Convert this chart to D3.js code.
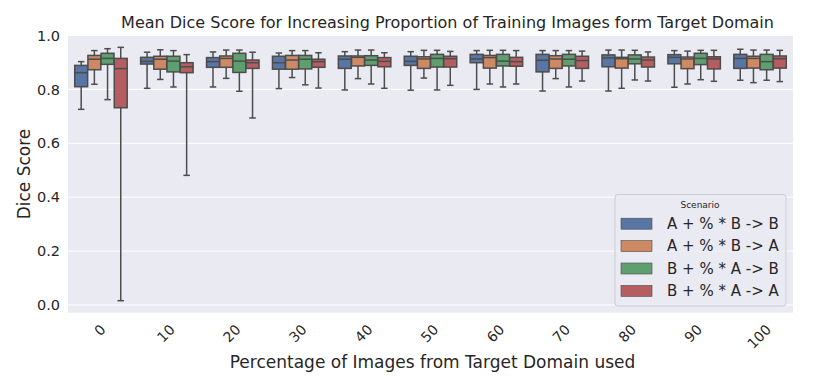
<!DOCTYPE html>
<html>
<head>
	<title>Dice Score Boxplot</title>
	<script type="text/javascript" src="https://cdnjs.cloudflare.com/ajax/libs/d3/7.8.5/d3.min.js"></script>
	<style>
		body { margin: 0; background: white; }
		text { font-family: "DejaVu Sans", sans-serif; fill: #262626; }
	</style>
</head>
<body>
	<svg id="chart" width="830" height="388"></svg>
	<script type="text/javascript">
		var categories = ["0", "10", "20", "30", "40", "50", "60", "70", "80", "90", "100"];
		var scenarios = ["A + % * B -> B", "A + % * B -> A", "B + % * A -> B", "B + % * A -> A"];
		var colors = ["#5875a4", "#cc8963", "#5f9e6e", "#b55d60"];
		var yTicks = [0.0, 0.2, 0.4, 0.6, 0.8, 1.0];

		// each entry: [whisker low, q1, median, q3, whisker high]
		var boxesAB_B = [
			[0.726, 0.810, 0.862, 0.889, 0.903], [0.804, 0.894, 0.904, 0.919, 0.938],
			[0.809, 0.882, 0.903, 0.918, 0.939], [0.803, 0.875, 0.899, 0.923, 0.935],
			[0.798, 0.878, 0.912, 0.924, 0.940], [0.797, 0.889, 0.904, 0.923, 0.940],
			[0.800, 0.899, 0.913, 0.930, 0.944], [0.794, 0.865, 0.908, 0.930, 0.944],
			[0.794, 0.884, 0.917, 0.928, 0.946], [0.808, 0.895, 0.919, 0.929, 0.944],
			[0.834, 0.878, 0.915, 0.930, 0.949]
		];
		var boxesAB_A = [
			[0.819, 0.873, 0.912, 0.926, 0.944], [0.837, 0.875, 0.912, 0.923, 0.947],
			[0.841, 0.882, 0.915, 0.924, 0.946], [0.844, 0.875, 0.909, 0.926, 0.944],
			[0.840, 0.887, 0.919, 0.924, 0.946], [0.842, 0.878, 0.913, 0.921, 0.945],
			[0.820, 0.879, 0.918, 0.926, 0.945], [0.840, 0.878, 0.913, 0.925, 0.944],
			[0.804, 0.879, 0.914, 0.919, 0.946], [0.820, 0.877, 0.913, 0.920, 0.942],
			[0.825, 0.879, 0.915, 0.923, 0.946]
		];
		var boxesBA_B = [
			[0.762, 0.893, 0.915, 0.934, 0.951], [0.809, 0.865, 0.905, 0.923, 0.944],
			[0.793, 0.863, 0.905, 0.934, 0.946], [0.817, 0.876, 0.912, 0.926, 0.944],
			[0.820, 0.889, 0.909, 0.925, 0.946], [0.798, 0.883, 0.915, 0.930, 0.945],
			[0.809, 0.887, 0.905, 0.930, 0.945], [0.809, 0.887, 0.912, 0.930, 0.944],
			[0.835, 0.895, 0.913, 0.928, 0.945], [0.836, 0.892, 0.915, 0.934, 0.945],
			[0.834, 0.873, 0.903, 0.930, 0.946]
		];
		var boxesBA_A = [
			[0.016, 0.732, 0.877, 0.915, 0.956], [0.481, 0.862, 0.884, 0.899, 0.929],
			[0.694, 0.878, 0.899, 0.909, 0.938], [0.805, 0.882, 0.903, 0.912, 0.936],
			[0.804, 0.884, 0.904, 0.918, 0.936], [0.815, 0.883, 0.914, 0.923, 0.941],
			[0.820, 0.886, 0.903, 0.919, 0.944], [0.831, 0.878, 0.907, 0.923, 0.942],
			[0.831, 0.883, 0.909, 0.920, 0.939], [0.830, 0.876, 0.913, 0.921, 0.945],
			[0.829, 0.879, 0.914, 0.924, 0.945]
		];
		var allBoxes = [boxesAB_B, boxesAB_A, boxesBA_B, boxesBA_A];

		var svg = d3.select("#chart");
		var plotLeft = 68, plotRight = 793, plotTop = 35.5, plotBottom = 312.7;
		var lineColor = "#4c4c4c";

		var x = d3.scaleBand().domain(categories).range([plotLeft, plotRight]);
		var hue = d3.scaleBand().domain(scenarios)
			.range([-0.4 * x.bandwidth(), 0.4 * x.bandwidth()]);
		var y = d3.scaleLinear().domain([-0.0286, 1.0]).range([plotBottom, plotTop]);

		//background and grid
		svg.append("rect")
			.attr("x", plotLeft).attr("y", plotTop)
			.attr("width", plotRight - plotLeft).attr("height", plotBottom - plotTop)
			.attr("fill", "#eaeaf2");

		svg.selectAll(".grid").data(yTicks).enter().append("line")
			.attr("x1", plotLeft).attr("x2", plotRight)
			.attr("y1", function (d) { return y(d); })
			.attr("y2", function (d) { return y(d); })
			.attr("stroke", "white").attr("stroke-width", 1);

		//y axis
		var yAxis = svg.append("g")
			.attr("transform", "translate(" + plotLeft + ",0)")
			.call(d3.axisLeft(y).tickValues(yTicks).tickFormat(d3.format(".1f")).tickSize(0).tickPadding(8));
		yAxis.select(".domain").remove();
		yAxis.selectAll("text").style("font-size", "14.5px").style("font-family", "DejaVu Sans").attr("fill", "#262626");

		//x tick labels rotated 45
		categories.forEach(function (c) {
			var cx = x(c) + x.bandwidth() / 2;
			var t = svg.append("text")
				.attr("text-anchor", "middle")
				.attr("dominant-baseline", "central")
				.style("font-size", "14px")
				.text(c);
			var w = t.node().getComputedTextLength();
			var half = (w + 10) * Math.SQRT1_2 / 2;
			t.attr("transform", "translate(" + (cx - 1) + "," + (323.5 + half) + ") rotate(-45)");
		});

		//boxes
		allBoxes.forEach(function (series, si) {
			var bw = hue.bandwidth() * 0.98;
			series.forEach(function (b, ci) {
				var cx = x(categories[ci]) + x.bandwidth() / 2 + hue(scenarios[si]) + hue.bandwidth() / 2;
				var g = svg.append("g");
				var capW = bw * 0.5;
				g.append("line")
					.attr("x1", cx).attr("x2", cx)
					.attr("y1", y(b[0])).attr("y2", y(b[1]))
					.attr("stroke", lineColor).attr("stroke-width", 1.5);
				g.append("line")
					.attr("x1", cx).attr("x2", cx)
					.attr("y1", y(b[3])).attr("y2", y(b[4]))
					.attr("stroke", lineColor).attr("stroke-width", 1.5);
				[b[0], b[4]].forEach(function (v) {
					g.append("line")
						.attr("x1", cx - capW / 2).attr("x2", cx + capW / 2)
						.attr("y1", y(v)).attr("y2", y(v))
						.attr("stroke", lineColor).attr("stroke-width", 1.5);
				});
				g.append("rect")
					.attr("x", cx - bw / 2).attr("y", y(b[3]))
					.attr("width", bw).attr("height", y(b[1]) - y(b[3]))
					.attr("fill", colors[si])
					.attr("stroke", lineColor).attr("stroke-width", 1.5);
				g.append("line")
					.attr("x1", cx - bw / 2).attr("x2", cx + bw / 2)
					.attr("y1", y(b[2])).attr("y2", y(b[2]))
					.attr("stroke", lineColor).attr("stroke-width", 1.5);
			});
		});

		//titles
		svg.append("text")
			.attr("x", (plotLeft + plotRight) / 2 + 17).attr("y", 28)
			.attr("text-anchor", "middle")
			.style("font-size", "16px")
			.text("Mean Dice Score for Increasing Proportion of Training Images form Target Domain");

		svg.append("text")
			.attr("x", (plotLeft + plotRight) / 2 + 2).attr("y", 368)
			.attr("text-anchor", "middle")
			.style("font-size", "17px")
			.text("Percentage of Images from Target Domain used");

		svg.append("text")
			.attr("transform", "translate(30,174) rotate(-90)")
			.attr("text-anchor", "middle")
			.style("font-size", "17px")
			.text("Dice Score");

		//legend
		var legend = svg.append("g");
		legend.append("rect")
			.attr("x", 615).attr("y", 194.5)
			.attr("width", 171).attr("height", 111.5)
			.attr("rx", 3)
			.attr("fill", "#eaeaf2").attr("fill-opacity", 0.8)
			.attr("stroke", "#cccccc").attr("stroke-width", 1);
		legend.append("text")
			.attr("x", 700).attr("y", 208)
			.attr("text-anchor", "middle")
			.style("font-size", "9px")
			.text("Scenario");
		scenarios.forEach(function (s, i) {
			var cy = 223.7 + i * 22.4;
			legend.append("rect")
				.attr("x", 621).attr("y", cy - 5.5)
				.attr("width", 31).attr("height", 11)
				.attr("fill", colors[i])
				.attr("stroke", lineColor).attr("stroke-width", 0.6);
			legend.append("text")
				.attr("x", 667).attr("y", cy)
				.attr("dominant-baseline", "central")
				.style("font-size", "15px")
				.text(s);
		});
	</script>
</body>
</html>
